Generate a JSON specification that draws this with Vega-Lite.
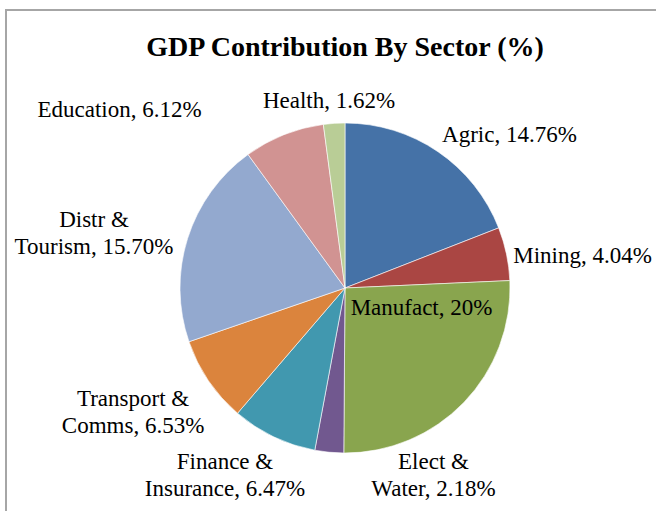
{
  "$schema": "https://vega.github.io/schema/vega-lite/v6.json",
  "width": 678,
  "height": 556,
  "autosize": {"type": "none"},
  "padding": {"left": 6, "top": 10, "right": -28, "bottom": -55},
  "background": "white",
  "view": {"stroke": "#a6a6a6", "strokeWidth": 2, "fill": "white"},
  "config": {
    "view": {"stroke": "#a6a6a6", "strokeWidth": 2, "fill": "white"},
    "text": {"font": "'Liberation Serif', 'Times New Roman', serif", "fontSize": 23, "lineHeight": 27, "lineBreak": "\n", "align": "center", "baseline": "middle", "fill": "black"}
  },
  "title": {
    "text": "GDP Contribution By Sector (%)",
    "font": "'Liberation Serif', 'Times New Roman', serif",
    "fontSize": 28,
    "fontWeight": "bold",
    "color": "black",
    "anchor": "middle",
    "frame": "group",
    "baseline": "alphabetic",
    "offset": -47,
    "dy": 27
  },
  "data": {
    "values": [
      {"order": 1, "sector": "Agric", "value": 14.76, "label": "Agric, 14.76%"},
      {"order": 2, "sector": "Mining", "value": 4.04, "label": "Mining, 4.04%"},
      {"order": 3, "sector": "Manufact", "value": 20, "label": "Manufact, 20%"},
      {"order": 4, "sector": "Elect & Water", "value": 2.18, "label": "Elect &\nWater, 2.18%"},
      {"order": 5, "sector": "Finance & Insurance", "value": 6.47, "label": "Finance &\nInsurance, 6.47%"},
      {"order": 6, "sector": "Transport & Comms", "value": 6.53, "label": "Transport &\nComms, 6.53%"},
      {"order": 7, "sector": "Distr & Tourism", "value": 15.70, "label": "Distr &\nTourism, 15.70%"},
      {"order": 8, "sector": "Education", "value": 6.12, "label": "Education, 6.12%"},
      {"order": 9, "sector": "Health", "value": 1.62, "label": "Health, 1.62%"}
    ]
  },
  "encoding": {
    "theta": {"field": "value", "type": "quantitative", "stack": true},
    "order": {"field": "order", "type": "quantitative"},
    "detail": {"field": "sector", "type": "nominal"}
  },
  "layer": [
    {
      "mark": {"type": "arc", "radius": 165, "stroke": "white", "strokeWidth": 0.6},
      "encoding": {
        "color": {
          "field": "sector", "type": "nominal", "legend": null,
          "scale": {
            "domain": ["Agric", "Mining", "Manufact", "Elect & Water", "Finance & Insurance", "Transport & Comms", "Distr & Tourism", "Education", "Health"],
            "range": ["#4572A7", "#AA4643", "#89A54E", "#71588F", "#4198AF", "#DB843D", "#93A9CF", "#D19392", "#B9CD96"]
          }
        }
      }
    },
    {
      "mark": {"type": "text", "font": "'Liberation Serif', 'Times New Roman', serif", "radius": 200, "dx": 51.7, "dy": 11.9},
      "encoding": {"text": {"condition": {"test": "datum.sector === 'Agric'", "field": "label", "type": "nominal"}, "value": ""}}
    },
    {
      "mark": {"type": "text", "font": "'Liberation Serif', 'Times New Roman', serif", "radius": 200, "dx": 41.9, "dy": 9},
      "encoding": {"text": {"condition": {"test": "datum.sector === 'Mining'", "field": "label", "type": "nominal"}, "value": ""}}
    },
    {
      "mark": {"type": "text", "font": "'Liberation Serif', 'Times New Roman', serif", "radius": 80, "dx": 18.9, "dy": -35.5},
      "encoding": {"text": {"condition": {"test": "datum.sector === 'Manufact'", "field": "label", "type": "nominal"}, "value": ""}}
    },
    {
      "mark": {"type": "text", "font": "'Liberation Serif', 'Times New Roman', serif", "radius": 200, "dx": 107.6, "dy": -25.1},
      "encoding": {"text": {"condition": {"test": "datum.sector === 'Elect & Water'", "field": "label", "type": "nominal"}, "value": ""}}
    },
    {
      "mark": {"type": "text", "font": "'Liberation Serif', 'Times New Roman', serif", "radius": 200, "dx": -33.6, "dy": -6.6},
      "encoding": {"text": {"condition": {"test": "datum.sector === 'Finance & Insurance'", "field": "label", "type": "nominal"}, "value": ""}}
    },
    {
      "mark": {"type": "text", "font": "'Liberation Serif', 'Times New Roman', serif", "radius": 200, "dx": -46.5, "dy": -1.1},
      "encoding": {"text": {"condition": {"test": "datum.sector === 'Transport & Comms'", "field": "label", "type": "nominal"}, "value": ""}}
    },
    {
      "mark": {"type": "text", "font": "'Liberation Serif', 'Times New Roman', serif", "radius": 200, "dx": -60.3, "dy": -7.6},
      "encoding": {"text": {"condition": {"test": "datum.sector === 'Distr & Tourism'", "field": "label", "type": "nominal"}, "value": ""}}
    },
    {
      "mark": {"type": "text", "font": "'Liberation Serif', 'Times New Roman', serif", "radius": 200, "dx": -151.3, "dy": 7.4},
      "encoding": {"text": {"condition": {"test": "datum.sector === 'Education'", "field": "label", "type": "nominal"}, "value": ""}}
    },
    {
      "mark": {"type": "text", "font": "'Liberation Serif', 'Times New Roman', serif", "radius": 200, "dx": -2.8, "dy": 12.6},
      "encoding": {"text": {"condition": {"test": "datum.sector === 'Health'", "field": "label", "type": "nominal"}, "value": ""}}
    }
  ]
}
